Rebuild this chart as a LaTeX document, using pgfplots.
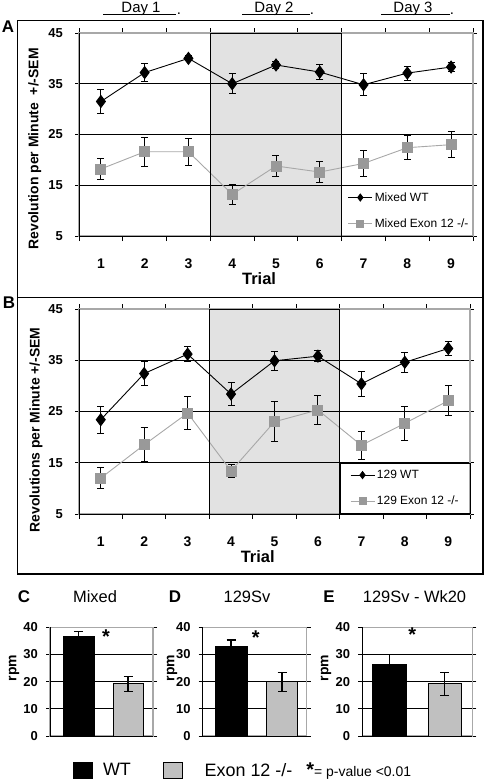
\documentclass[border=0pt]{standalone}
\usepackage{pgfplots}
\pgfplotsset{compat=1.18}
\usepackage{fontspec}
\setmainfont{Liberation Sans}
\newcommand\fs[1]{\fontsize{#1}{#1}\selectfont}
\definecolor{dayshade}{HTML}{E2E2E2}
\definecolor{exmark}{HTML}{999999}
\definecolor{exline}{HTML}{A8A8A8}
\definecolor{exbar}{HTML}{C0C0C0}
\definecolor{frame}{HTML}{A8A8A8}

\pgfplotsset{
  trialaxis/.style={
    set layers, scale only axis, anchor=south west,
    xmin=0.5, xmax=9.5, ymin=5, ymax=45,
    xtick={1,...,9}, minor xtick={0.5,1.5,...,9.5},
    ytick={5,15,25,35,45},
    tick align=outside,
    major tick length=4bp, minor tick length=5bp,
    major x tick style={draw=none},
    tick style={black, line width=0.8bp},
    axis line style={frame, line width=1.3bp},
    ymajorgrids, grid style={black, line width=0.9bp},
    /pgf/number format/assume math mode=true,
    yticklabel style={font=\bfseries\fs{13}, anchor=east, inner sep=0pt, xshift=-12bp},
    xticklabel style={font=\bfseries\fs{14}, anchor=base, inner sep=0pt, yshift=-28bp},
    xlabel={Trial},
    xlabel style={font=\bfseries\fs{16.5}, at={(rel axis cs:0.457,0)}, anchor=center, yshift=-43bp},
    legend cell align=left,
    legend image code/.code={\draw[mark repeat=2,mark phase=2,##1] plot coordinates {(0bp,0bp) (12bp,0bp) (24bp,0bp)};},
    legend image post style={mark size=3.5bp},
    legend style={draw=none, fill=none, font=\fs{12}, anchor=north west, inner xsep=6bp, inner ysep=5bp, row sep=12bp},
  },
  wt/.style={black, line width=0.9bp, mark=diamond*, mark size=6bp, mark options={fill=black, draw=black},
    error bars/y dir=both, error bars/y explicit,
    error bars/error bar style={black, line width=0.9bp},
    error bars/error mark options={rotate=90, mark size=3.5bp, black, line width=0.9bp}},
  ex/.style={exline, line width=0.9bp, mark=square*, mark size=5bp, mark options={fill=exmark, draw=exmark},
    error bars/y dir=both, error bars/y explicit,
    error bars/error bar style={black, line width=0.9bp},
    error bars/error mark options={rotate=90, mark size=3.5bp, black, line width=0.9bp}},
  barax/.style={
    set layers, scale only axis, anchor=south west, height=108.7bp,
    ymin=0, ymax=40, ytick={0,10,20,30,40}, xtick=\empty,
    tick align=outside, major tick length=4bp, tick style={black, line width=0.8bp},
    axis line style={frame, line width=1.3bp},
    ymajorgrids, grid style={black, line width=0.9bp},
    /pgf/number format/assume math mode=true,
    yticklabel style={font=\bfseries\fs{13}, anchor=east, inner sep=0pt, xshift=-8bp},
    ylabel={rpm},
    ybar, bar shift=0pt,
  },
  wtbar/.style={fill=black, draw=black, line width=0.8bp,
    error bars/y dir=both, error bars/y explicit,
    error bars/error bar style={black, line width=1.2bp},
    error bars/error mark options={rotate=90, mark size=4.5bp, black, line width=1.2bp}},
  exbarsty/.style={fill=exbar, draw=black, line width=0.8bp,
    error bars/y dir=both, error bars/y explicit,
    error bars/error bar style={black, line width=1.2bp},
    error bars/error mark options={rotate=90, mark size=4.5bp, black, line width=1.2bp}},
  sqleg/.style={legend image code/.code={\draw[##1, line width=0.8bp] (0bp,-8bp) rectangle (19bp,8bp);}},
}
\newcommand\shadeday{%
  \pgfplotsextra{%
    \begin{pgfonlayer}{axis background}
    \fill[dayshade] (axis cs:3.5,5) rectangle (axis cs:6.5,45);
    \end{pgfonlayer}
    \begin{pgfonlayer}{axis foreground}
    \draw[black, line width=0.9bp] (axis cs:3.5,5) rectangle (axis cs:6.5,45);
    \draw[black, line width=0.9bp] (rel axis cs:0,1) -- (rel axis cs:0,0) -- (rel axis cs:1,0);
    \end{pgfonlayer}}}
\newcommand\blackaxes{%
  \pgfplotsextra{%
    \begin{pgfonlayer}{axis foreground}
    \draw[black, line width=0.9bp] (rel axis cs:0,1) -- (rel axis cs:0,0) -- (rel axis cs:1,0);
    \end{pgfonlayer}}}

\begin{document}
\begin{tikzpicture}

% Day headers
\node[anchor=base, font=\fs{15}, inner sep=0pt] at (141bp,-12bp) {Day 1};
\draw[line width=0.9bp] (103bp,-14bp) -- (176bp,-14bp);
\node[anchor=base, font=\fs{15}, inner sep=0pt] at (179bp,-14.5bp) {.};
\node[anchor=base, font=\fs{15}, inner sep=0pt] at (274bp,-12bp) {Day 2};
\draw[line width=0.9bp] (242bp,-14bp) -- (310bp,-14bp);
\node[anchor=base, font=\fs{15}, inner sep=0pt] at (312bp,-14.5bp) {.};
\node[anchor=base, font=\fs{15}, inner sep=0pt] at (413bp,-12bp) {Day 3};
\draw[line width=0.9bp] (381bp,-14bp) -- (450bp,-14bp);
\node[anchor=base, font=\fs{15}, inner sep=0pt] at (452bp,-14.5bp) {.};

% frames
\draw[line width=1.5bp] (17.3bp,-20.7bp) rectangle (483bp,-297.5bp);
\draw[line width=1.5bp] (17.3bp,-297.5bp) rectangle (483bp,-574bp);
\node[font=\bfseries\fs{17}] at (8bp,-27bp) {A};
\node[font=\bfseries\fs{17}] at (9bp,-303bp) {B};

% ---------- Panel A ----------
\begin{axis}[trialaxis, at={(79bp,-236bp)}, width=394bp, height=203bp,
  ylabel={Revolution per Minute\ \ +/-SEM},
  ylabel style={font=\bfseries\fs{14}, at={(rel axis cs:-0.112,0.43)}, anchor=center},
  legend style={at={(0.6667,0.25)}}]
\shadeday
\addplot[wt] table[x=x, y=y, y error=e] {
x y e
1 31.5 2.4
2 37.2 1.8
3 40.0 0.5
4 35.0 2.0
5 38.7 0.7
6 37.3 1.5
7 34.8 2.2
8 37.1 1.4
9 38.3 0.8
};
\addlegendentry{Mixed WT}
\addplot[ex] table[x=x, y=y, y error=e] {
x y e
1 18.2 2.0
2 21.6 2.8
3 21.6 2.6
4 13.2 1.9
5 18.8 2.1
6 17.6 2.0
7 19.3 2.5
8 22.4 2.4
9 23.0 2.6
};
\addlegendentry{Mixed Exon 12 -/-}
\end{axis}

% ---------- Panel B ----------
\begin{axis}[trialaxis, at={(79bp,-514bp)}, width=391bp, height=205bp,
  ylabel={Revolutions per Minute\ +/-SEM},
  ylabel style={font=\bfseries\fs{14}, at={(rel axis cs:-0.11,0.41)}, anchor=center},
  legend style={at={(0.6667,0.25)}, draw=black, line width=0.8bp, inner xsep=10bp}]
\shadeday
\addplot[wt] table[x=x, y=y, y error=e] {
x y e
1 23.4 2.6
2 32.4 2.3
3 36.2 1.4
4 28.4 2.3
5 34.9 1.8
6 35.8 1.1
7 30.4 2.5
8 34.6 2.0
9 37.3 1.4
};
\addlegendentry{129 WT}
\addplot[ex] table[x=x, y=y, y error=e] {
x y e
1 12.0 2.1
2 18.5 3.3
3 24.7 3.2
4 13.4 1.2
5 23.0 3.9
6 25.3 2.9
7 18.4 2.7
8 22.7 3.3
9 27.1 2.9
};
\addlegendentry{129 Exon 12 -/-}
\end{axis}

% ---------- Bar panels titles ----------
\node[font=\bfseries\fs{17}] at (24bp,-597bp) {C};
\node[font=\fs{16.5}] at (95bp,-597bp) {Mixed};
\node[font=\bfseries\fs{17}] at (175bp,-597bp) {D};
\node[font=\fs{16.5}] at (247bp,-597bp) {129Sv};
\node[font=\bfseries\fs{17}] at (329bp,-597bp) {E};
\node[font=\fs{16.5}] at (414.5bp,-597bp) {129Sv - Wk20};

% ---------- Panel C ----------
\begin{axis}[barax, at={(50bp,-736bp)}, width=103bp,
  xmin=-0.585, xmax=1.508,
  ylabel style={font=\bfseries\fs{14}, at={(rel axis cs:-0.35,0.626)}, anchor=center},
  legend columns=3,
  legend style={at={(0.2233,-0.317)}, anchor=west, draw=none, fill=none, font=\fs{18},
    inner sep=0pt, nodes={inner sep=0pt},
    /tikz/column 1/.style={column sep=10bp},
    /tikz/column 2/.style={column sep=32bp},
    /tikz/column 3/.style={column sep=22bp},
    /tikz/column 4/.style={column sep=14bp},
    /tikz/column 5/.style={column sep=0bp}}]
\blackaxes
\addplot[wtbar, sqleg, bar width=0.63] coordinates {(0,36.7) +- (0,1.9)};
\addlegendentry{WT}
\addplot[exbarsty, sqleg, bar width=0.61] coordinates {(1,19.2) +- (0,2.7)};
\addlegendentry{Exon 12 -/-}
\addlegendimage{empty legend}
\addlegendentry{{\fs{20}\bfseries *}{\fs{14}= p-value <0.01}}
\node[font=\bfseries\fs{20}, anchor=north, inner sep=0pt] at (axis cs:0.553,39.2) {*};
\end{axis}

% ---------- Panel D ----------
\begin{axis}[barax, at={(202.7bp,-736bp)}, width=104bp,
  xmin=-0.555, xmax=1.484,
  ylabel style={font=\bfseries\fs{14}, at={(rel axis cs:-0.295,0.626)}, anchor=center}]
\blackaxes
\addplot[wtbar, bar width=0.627] coordinates {(0,32.8) +- (0,2.5)};
\addplot[exbarsty, bar width=0.61] coordinates {(1,20.0) +- (0,3.5)};
\node[font=\bfseries\fs{20}, anchor=north, inner sep=0pt] at (axis cs:0.484,38.8) {*};
\end{axis}

% ---------- Panel E ----------
\begin{axis}[barax, at={(362.3bp,-736bp)}, width=110bp,
  xmin=-0.493, xmax=1.5,
  ylabel style={font=\bfseries\fs{14}, at={(rel axis cs:-0.33,0.626)}, anchor=center}]
\blackaxes
\addplot[wtbar, bar width=0.61] coordinates {(0,26.5) +- (0,3.5)};
\addplot[exbarsty, bar width=0.6] coordinates {(1,19.2) +- (0,4.2)};
\node[font=\bfseries\fs{20}, anchor=north, inner sep=0pt] at (axis cs:0.413,39.8) {*};
\end{axis}

\pgfresetboundingbox
\useasboundingbox (0,0) rectangle (484bp,-784bp);
\end{tikzpicture}
\end{document}
